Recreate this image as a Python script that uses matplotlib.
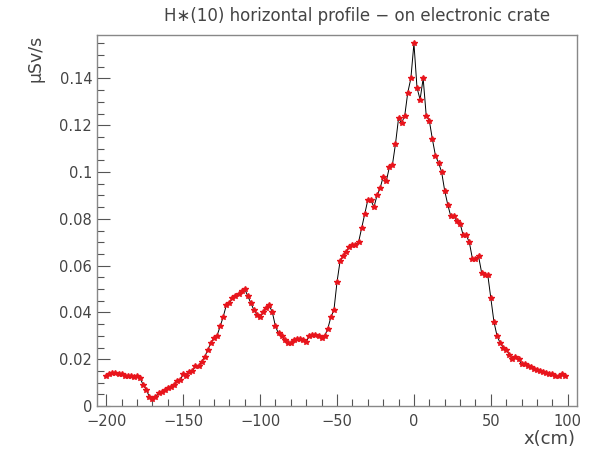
import matplotlib
matplotlib.use("Agg")
import matplotlib.pyplot as plt
from matplotlib.ticker import MultipleLocator

# H*(10) dose rate along x
x_cm = [-200, -198, -196, -194, -192, -190, -188, -186, -184, -182,
        -180, -178, -176, -174, -172, -170, -168, -166, -164, -162,
        -160, -158, -156, -154, -152, -150, -148, -146, -144, -142,
        -140, -138, -136, -134, -132, -130, -128, -126, -124, -122,
        -120, -118, -116, -114, -112, -110, -108, -106, -104, -102,
        -100, -98, -96, -94, -92, -90, -88, -86, -84, -82,
        -80, -78, -76, -74, -72, -70, -68, -66, -64, -62,
        -60, -58, -56, -54, -52, -50, -48, -46, -44, -42,
        -40, -38, -36, -34, -32, -30, -28, -26, -24, -22,
        -20, -18, -16, -14, -12, -10, -8, -6, -4, -2,
        0, 2, 4, 6, 8, 10, 12, 14, 16, 18,
        20, 22, 24, 26, 28, 30, 32, 34, 36, 38,
        40, 42, 44, 46, 48, 50, 52, 54, 56, 58,
        60, 62, 64, 66, 68, 70, 72, 74, 76, 78,
        80, 82, 84, 86, 88, 90, 92, 94, 96, 98]

dose = [0.013, 0.0135, 0.014, 0.014, 0.0135, 0.0135, 0.013, 0.013, 0.013, 0.0125,
        0.013, 0.012, 0.009, 0.007, 0.004, 0.003, 0.004, 0.0055, 0.006, 0.007,
        0.0075, 0.008, 0.009, 0.0105, 0.011, 0.0135, 0.013, 0.0145, 0.015, 0.017,
        0.017, 0.019, 0.021, 0.024, 0.027, 0.029, 0.030, 0.034, 0.038, 0.043,
        0.044, 0.046, 0.047, 0.048, 0.049, 0.050, 0.047, 0.044, 0.041, 0.039,
        0.038, 0.040, 0.042, 0.043, 0.040, 0.034, 0.031, 0.030, 0.028, 0.027,
        0.027, 0.028, 0.0285, 0.0285, 0.028, 0.0275, 0.030, 0.0305, 0.0305, 0.030,
        0.029, 0.030, 0.033, 0.038, 0.041, 0.053, 0.062, 0.064, 0.066, 0.068,
        0.069, 0.069, 0.070, 0.076, 0.082, 0.088, 0.088, 0.085, 0.090, 0.093,
        0.098, 0.096, 0.102, 0.103, 0.112, 0.123, 0.121, 0.124, 0.134, 0.140,
        0.155, 0.136, 0.131, 0.140, 0.124, 0.122, 0.114, 0.107, 0.104, 0.100,
        0.092, 0.086, 0.081, 0.081, 0.079, 0.078, 0.073, 0.073, 0.070, 0.063,
        0.063, 0.064, 0.057, 0.056, 0.056, 0.046, 0.036, 0.030, 0.027, 0.025,
        0.024, 0.022, 0.020, 0.021, 0.020, 0.018, 0.018, 0.017, 0.0165, 0.016,
        0.0155, 0.015, 0.0145, 0.014, 0.0135, 0.0135, 0.013, 0.013, 0.0135, 0.013]

grey = "#444444"

fig = plt.figure(figsize=(5.90, 4.57), dpi=100)
ax = fig.add_axes([0.1644, 0.1116, 0.8136, 0.8114])

ax.plot(x_cm, dose, color="black", lw=0.7, zorder=2)
ax.plot(x_cm, dose, ls="none", marker="*", ms=4.2, mfc="#e8141c",
        mec="#e8141c", zorder=3)

ax.set_xlim(-206, 106)
ax.set_ylim(0, 0.1585)

ax.xaxis.set_major_locator(MultipleLocator(50))
ax.xaxis.set_minor_locator(MultipleLocator(10))
ax.yaxis.set_major_locator(MultipleLocator(0.02))
ax.yaxis.set_minor_locator(MultipleLocator(0.005))
ax.yaxis.set_major_formatter(plt.FuncFormatter(lambda v, p: "0" if abs(v) < 1e-9 else f"{v:g}"))
ax.xaxis.set_major_formatter(plt.FuncFormatter(lambda v, p: f"{v:g}".replace("-", "\u2212")))

ax.tick_params(which="both", direction="in", colors="#555555",
               labelcolor=grey, labelsize=10.5, top=False, right=False)
ax.tick_params(which="major", length=9, width=0.8)
ax.tick_params(which="minor", length=5, width=0.8)
ax.tick_params(axis="x", pad=6)

for s in ax.spines.values():
    s.set_color("#888888")
    s.set_linewidth(1.0)

fig.text(0.605, 0.965, "H\u2217(10) horizontal profile \u2212 on electronic crate",
         ha="center", va="center", fontsize=12, color=grey)
fig.text(0.06, 0.923, "\u03bcSv/s", rotation=90, ha="center", va="top",
         fontsize=12.5, color=grey)
fig.text(0.975, 0.04, "x(cm)", ha="right", va="center", fontsize=13, color=grey)

fig.savefig("out.png", dpi=100)
